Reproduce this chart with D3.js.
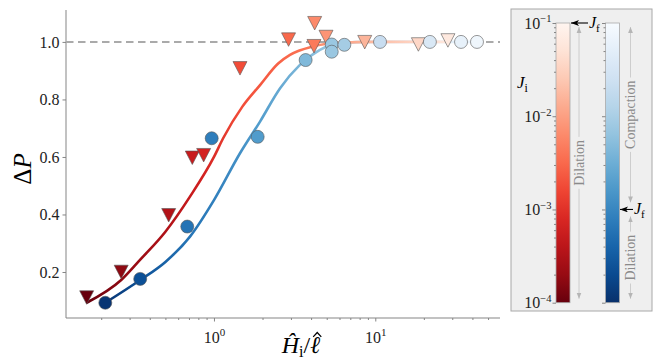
<!DOCTYPE html>
<meta charset="utf-8">
<head>
	<style type="text/css">
		body { margin: 0; background: #fff; }
		text { font-family: "Liberation Serif", "DejaVu Serif", serif; }
		.axis path, .axis line { stroke: #858585; }
		.axis text { fill: #222; font-size: 16px; }
	</style>
	<title>Delta P vs H/l</title>
</head>

<script src="https://cdn.jsdelivr.net/npm/d3@7"></script>

<svg width="654" height="362" id="svg1"></svg>

<script>
	// triangles (red, dilation runs)
	const triX = [0.1625, 0.266, 0.524, 0.734, 0.863, 1.45, 2.90, 4.21, 4.95, 4.17, 8.6, 18.5, 28.2];
	const triY = [0.112, 0.201, 0.398, 0.598, 0.607, 0.909, 1.009, 1.066, 1.018, 0.986, 1.0, 0.992, 1.006];
	const triLogJ = [-4.0, -3.76, -3.49, -3.28, -3.16, -2.74, -2.5, -2.2, -2.11, -2.35, -1.81, -1.45, -1.21];

	// circles (blue)
	const cirX = [0.212, 0.349, 0.683, 0.968, 1.866, 3.70, 5.37, 5.37, 6.43, 10.7, 21.8, 34.0, 42.7];
	const cirY = [0.093, 0.176, 0.358, 0.665, 0.670, 0.937, 0.991, 0.966, 0.990, 1.0, 1.0, 1.0, 1.0];
	const cirLogJ = [-3.94, -3.64, -3.22, -3.1, -2.74, -2.35, -2.14, -2.14, -2.05, -1.69, -1.45, -1.24, -1.12];

	// fitted curves
	const redFitX = [0.1625, 0.266, 0.348, 0.5, 0.71, 1.0, 1.14, 1.5, 1.93, 2.5, 2.96, 4.1, 6, 10, 18.5, 28.2];
	const redFitY = [0.093, 0.172, 0.242, 0.34, 0.462, 0.6, 0.665, 0.775, 0.85, 0.925, 0.955, 0.984, 0.997, 1.0, 1.0, 1.0];
	const blueFitX = [0.212, 0.349, 0.5, 0.71, 1.0, 1.45, 1.93, 2.57, 3.41, 4.54, 5.77, 10, 42.7];
	const blueFitY = [0.093, 0.172, 0.235, 0.323, 0.45, 0.613, 0.723, 0.839, 0.92, 0.972, 0.995, 1.0, 1.0];

	const yTicks = [0.2, 0.4, 0.6, 0.8, 1.0];
	const xMajor = [1, 10];
	const xMajorExp = ['0', '1'];
	const xMinor = [0.2, 0.3, 0.4, 0.5, 0.6, 0.7, 0.8, 0.9, 2, 3, 4, 5, 6, 7, 8, 9, 20, 30, 40, 50];

	const cbMajor = [1e-4, 1e-3, 1e-2, 1e-1];
	const cbMajorExp = ['\u22124', '\u22123', '\u22122', '\u22121'];
	const cbMinor = [2e-4,3e-4,4e-4,5e-4,6e-4,7e-4,8e-4,9e-4, 2e-3,3e-3,4e-3,5e-3,6e-3,7e-3,8e-3,9e-3, 2e-2,3e-2,4e-2,5e-2,6e-2,7e-2,8e-2,9e-2];
	const redJf = 1e-1;
	const blueJf = 1e-3;

	const svg1 = d3.select('#svg1');
	const defs = svg1.append('defs');

	const x = d3.scaleLog().domain([0.121, 59.3]).range([66, 500]);
	const y = d3.scaleLinear().domain([0.04, 1.111]).range([318, 10]);
	const jT = d3.scaleLinear().domain([-4, -1]).range([1, 0]).clamp(true);
	const redC = lj => d3.interpolateReds(jT(lj));
	const blueC = lj => d3.interpolateBlues(jT(lj));

	// axes
	svg1.append('g').attr('class', 'axis')
		.attr('transform', 'translate(66,0)')
		.call(d3.axisLeft(y).tickValues(yTicks).tickSize(3.5).tickSizeOuter(0).tickPadding(3).tickFormat(d3.format('.1f')))
		.call(g => g.select('.domain').attr('d', 'M0,10V318'));

	const xg = svg1.append('g').attr('class', 'axis')
		.attr('transform', 'translate(0,318)')
		.call(d3.axisBottom(x).tickValues(xMajor).tickSize(3.5).tickSizeOuter(0).tickPadding(5).tickFormat(''))
		.call(g => g.select('.domain').attr('d', 'M66,0H500'));
	xg.selectAll('.tick text').each(function(d, i) {
		const t = d3.select(this).attr('dy', '1em');
		t.append('tspan').text('10');
		t.append('tspan').attr('font-size', '11px').attr('dy', '-0.55em').text(xMajorExp[i]);
	});
	svg1.append('g').attr('class', 'axis')
		.attr('transform', 'translate(0,318)')
		.call(d3.axisBottom(x).tickValues(xMinor).tickSize(2).tickFormat(''))
		.call(g => g.select('.domain').remove());

	// reference line
	svg1.append('line')
		.attr('x1', 66).attr('x2', 500)
		.attr('y1', y(1)).attr('y2', y(1))
		.attr('stroke', '#aaaaaa').attr('stroke-width', 2)
		.attr('stroke-dasharray', '7.5,4.5');

	// fit curves with colour gradient along x
	function lineGrad(id, fx, px, pj, cmap) {
		const x0 = x(fx[0]), x1 = x(fx[fx.length - 1]);
		const g = defs.append('linearGradient').attr('id', id)
			.attr('gradientUnits', 'userSpaceOnUse')
			.attr('x1', x0).attr('x2', x1).attr('y1', 0).attr('y2', 0);
		const pts = px.map((v, i) => [x(v), pj[i]]).sort((a, b) => a[0] - b[0]);
		pts.forEach(p => {
			g.append('stop')
				.attr('offset', Math.max(0, Math.min(1, (p[0] - x0) / (x1 - x0))))
				.attr('stop-color', cmap(p[1]));
		});
	}
	lineGrad('gRed', redFitX, triX, triLogJ, redC);
	lineGrad('gBlue', blueFitX, cirX, cirLogJ, blueC);

	const line = d3.line().x(d => x(d[0])).y(d => y(d[1])).curve(d3.curveMonotoneX);

	svg1.append('path')
		.datum(blueFitX.map((v, i) => [v, blueFitY[i]]))
		.attr('d', line).attr('fill', 'none')
		.attr('stroke', 'url(#gBlue)').attr('stroke-width', 2.6);
	svg1.append('path')
		.datum(redFitX.map((v, i) => [v, redFitY[i]]))
		.attr('d', line).attr('fill', 'none')
		.attr('stroke', 'url(#gRed)').attr('stroke-width', 2.6);

	// markers
	svg1.append('g').selectAll('path')
		.data(triX.map((v, i) => i))
		.enter().append('path')
			.attr('d', 'M-7,-6.5L7,-6.5L0,7Z')
			.attr('transform', i => `translate(${x(triX[i])},${y(triY[i])})`)
			.attr('fill', i => redC(triLogJ[i]))
			.attr('stroke', '#555').attr('stroke-width', 0.6);

	svg1.append('g').selectAll('circle')
		.data(cirX.map((v, i) => i))
		.enter().append('circle')
			.attr('cx', i => x(cirX[i]))
			.attr('cy', i => y(cirY[i]))
			.attr('r', 6.5)
			.attr('fill', i => blueC(cirLogJ[i]))
			.attr('stroke', '#555').attr('stroke-width', 0.6);

	// axis labels
	svg1.append('text')
		.attr('transform', 'translate(31,169) rotate(-90)')
		.attr('text-anchor', 'middle').attr('font-size', '25px')
		.call(t => {
			t.append('tspan').text('\u0394');
			t.append('tspan').attr('font-style', 'italic').text('P');
		});

	const xlab = svg1.append('text')
		.attr('x', 301).attr('y', 353)
		.attr('text-anchor', 'middle').attr('font-size', '24px')
		.call(t => {
			t.append('tspan').attr('font-style', 'italic').text('\u0124');
			t.append('tspan').attr('font-size', '16px').attr('dy', '4').text('i');
			t.append('tspan').attr('dy', '-4').text('/');
			t.append('tspan').attr('font-style', 'italic').text('\u2113');
		});
	// hat over the ell, drawn as a small accent path
	const ell = xlab.node().getExtentOfChar(3);
	const hx = ell.x + ell.width / 2 + 2;
	svg1.append('path')
		.attr('d', `M${hx - 4.5},336.5L${hx},331.5L${hx + 4.5},336.5L${hx + 3.6},337.2L${hx},333.6L${hx - 3.6},337.2Z`)
		.attr('fill', '#000');

	// colour bar panel
	svg1.append('rect')
		.attr('x', 511).attr('y', 9).attr('width', 141).attr('height', 302)
		.attr('fill', '#efefef').attr('stroke', '#a8a8a8').attr('stroke-width', 1);

	const cbY = d3.scaleLog().domain([1e-4, 1e-1]).range([302.7, 23]);

	function vGrad(id, interp) {
		const g = defs.append('linearGradient').attr('id', id)
			.attr('x1', 0).attr('x2', 0).attr('y1', 0).attr('y2', 1);
		d3.range(0, 1.0001, 0.1).forEach(t => g.append('stop').attr('offset', t).attr('stop-color', interp(t)));
	}
	vGrad('cbRed', d3.interpolateReds);
	vGrad('cbBlue', d3.interpolateBlues);

	const bars = [{x0: 556, fill: 'url(#cbRed)', labels: true}, {x0: 605.5, fill: 'url(#cbBlue)', labels: false}];
	bars.forEach(b => {
		svg1.append('rect')
			.attr('x', b.x0).attr('y', cbY(1e-1)).attr('width', 14)
			.attr('height', cbY(1e-4) - cbY(1e-1))
			.attr('fill', b.fill).attr('stroke', '#aaa').attr('stroke-width', 0.8);
		const ax = svg1.append('g').attr('class', 'axis')
			.attr('transform', `translate(${b.x0},0)`)
			.call(d3.axisLeft(cbY).tickValues(cbMajor).tickSize(3.5).tickPadding(1).tickFormat(''))
			.call(g => g.select('.domain').remove());
		ax.selectAll('.tick line').attr('stroke', '#666');
		if (b.labels) {
			ax.selectAll('.tick text').each(function(d, i) {
				const t = d3.select(this).attr('font-size', '15px');
				t.append('tspan').text('10');
				t.append('tspan').attr('font-size', '10.5px').attr('dy', '-0.6em').text(cbMajorExp[i]);
			});
		}
		svg1.append('g').attr('class', 'axis')
			.attr('transform', `translate(${b.x0},0)`)
			.call(d3.axisLeft(cbY).tickValues(cbMinor).tickSize(2).tickFormat(''))
			.call(g => g.select('.domain').remove())
			.selectAll('.tick line').attr('stroke', '#666');
	});

	svg1.append('text')
		.attr('x', 517).attr('y', 88).attr('font-size', '17px')
		.call(t => {
			t.append('tspan').attr('font-style', 'italic').text('J');
			t.append('tspan').attr('font-size', '12px').attr('dy', '4').text('i');
		});

	// arrow heads
	defs.append('marker').attr('id', 'blackHead')
		.attr('viewBox', '0 0 8 6').attr('refX', 8).attr('refY', 3)
		.attr('markerUnits', 'userSpaceOnUse').attr('markerWidth', 8).attr('markerHeight', 6)
		.attr('orient', 'auto')
		.append('path').attr('d', 'M0,0L8,3L0,6L2,3Z').attr('fill', '#000');
	defs.append('marker').attr('id', 'grayHead')
		.attr('viewBox', '0 0 6 6').attr('refX', 6).attr('refY', 3)
		.attr('markerUnits', 'userSpaceOnUse').attr('markerWidth', 6).attr('markerHeight', 6)
		.attr('orient', 'auto-start-reverse')
		.append('path').attr('d', 'M0,0.6L6,3L0,5.4Z').attr('fill', '#b5b5b5');

	// J_f pointers
	const jfMarks = [{jf: redJf, xs: 588, xe: 571}, {jf: blueJf, xs: 633, xe: 620}];
	jfMarks.forEach(m => {
		svg1.append('line')
			.attr('x1', m.xs).attr('x2', m.xe)
			.attr('y1', cbY(m.jf)).attr('y2', cbY(m.jf))
			.attr('stroke', '#000').attr('stroke-width', 1.1)
			.attr('marker-end', 'url(#blackHead)');
		svg1.append('text')
			.attr('x', m.xs + 1).attr('y', cbY(m.jf) + 5).attr('font-size', '16px')
			.call(t => {
				t.append('tspan').attr('font-style', 'italic').text('J');
				t.append('tspan').attr('font-size', '11px').attr('dy', '4').text('f');
			});
	});

	// regime annotations
	const regimes = [
		{x: 579, top: cbY(1e-1) + 4, bot: cbY(1e-4) - 4, label: 'Dilation'},
		{x: 630.5, top: cbY(1e-1) + 4, bot: cbY(blueJf) - 7, label: 'Compaction'},
		{x: 630.5, top: cbY(blueJf) + 7, bot: cbY(1e-4) - 4, label: 'Dilation'}
	];
	regimes.forEach(r => {
		const mid = (r.top + r.bot) / 2;
		const txt = svg1.append('text')
			.attr('transform', `translate(${r.x + 4.5},${mid}) rotate(-90)`)
			.attr('text-anchor', 'middle').attr('font-size', '14px')
			.attr('fill', '#8a8a8a').text(r.label);
		const half = txt.node().getComputedTextLength() / 2 + 3;
		svg1.append('line')
			.attr('x1', r.x).attr('x2', r.x).attr('y1', mid - half).attr('y2', r.top)
			.attr('stroke', '#c4c4c4').attr('stroke-width', 0.8)
			.attr('marker-end', 'url(#grayHead)');
		svg1.append('line')
			.attr('x1', r.x).attr('x2', r.x).attr('y1', mid + half).attr('y2', r.bot)
			.attr('stroke', '#c4c4c4').attr('stroke-width', 0.8)
			.attr('marker-end', 'url(#grayHead)');
	});
</script>
